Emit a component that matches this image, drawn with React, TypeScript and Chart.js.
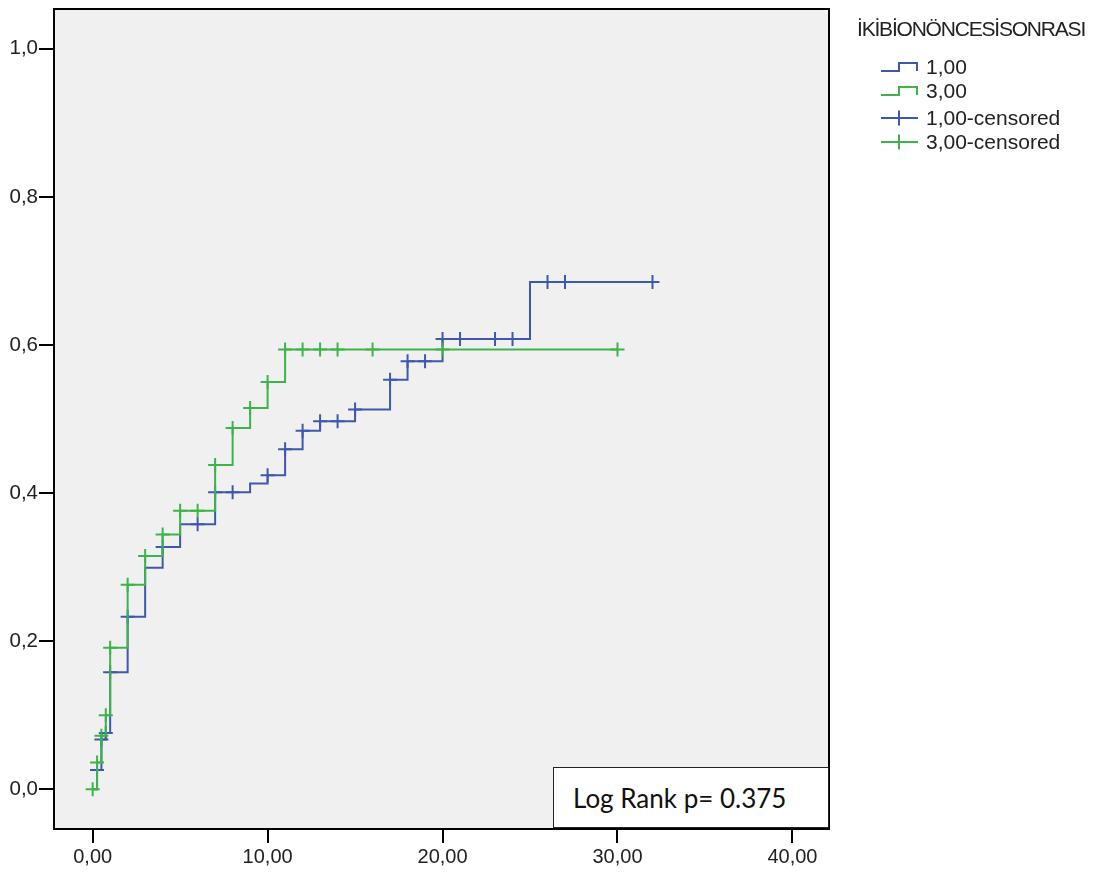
import React, { useEffect, useRef } from 'react';
import { Chart, registerables } from 'chart.js';

Chart.register(...registerables);

const BLUE = '#3f58ad';
const GREEN = '#3cb44a';

// Group "1,00" cumulative event curve (time, value after jump)
const group1Times = [0, 0.25, 0.5, 0.75, 1, 2, 3, 4, 5, 7, 9, 10, 11, 12, 13, 15, 17, 18, 20, 25, 32];
const group1Values = [0, 0.026, 0.067, 0.076, 0.158, 0.233, 0.299, 0.327, 0.358, 0.401, 0.413, 0.424, 0.459, 0.484, 0.497, 0.513, 0.553, 0.578, 0.608, 0.685, 0.685];
const group1CensorTimes = [0.25, 0.5, 0.75, 1, 2, 4, 6, 7, 8, 10, 11, 12, 13, 14, 15, 17, 18, 19, 20, 21, 23, 24, 26, 27, 32];
const group1CensorValues = [0.026, 0.067, 0.076, 0.158, 0.233, 0.327, 0.358, 0.401, 0.401, 0.424, 0.459, 0.484, 0.497, 0.497, 0.513, 0.553, 0.578, 0.578, 0.608, 0.608, 0.608, 0.608, 0.685, 0.685, 0.685];

// Group "3,00"
const group3Times = [0, 0.25, 0.5, 0.75, 1, 2, 3, 4, 5, 7, 8, 9, 10, 11, 30];
const group3Values = [0, 0.036, 0.072, 0.1, 0.191, 0.276, 0.315, 0.344, 0.376, 0.438, 0.488, 0.515, 0.55, 0.594, 0.594];
const group3CensorTimes = [0, 0.25, 0.5, 0.75, 1, 2, 3, 4, 5, 6, 7, 8, 9, 10, 11, 12, 13, 14, 16, 20, 30];
const group3CensorValues = [0, 0.036, 0.072, 0.1, 0.191, 0.276, 0.315, 0.344, 0.376, 0.376, 0.438, 0.488, 0.515, 0.55, 0.594, 0.594, 0.594, 0.594, 0.594, 0.594, 0.594];

const xTicks = [0, 10, 20, 30, 40];
const yTicks = [0, 0.2, 0.4, 0.6, 0.8, 1.0];

const legendTitle = 'İKİBİONÖNCESİSONRASI';
const legendLabels = ['1,00', '3,00', '1,00-censored', '3,00-censored'];
const annotationText = 'Log Rank p= 0.375';

const toPoints = (xs: number[], ys: number[]) => xs.map((x, i) => ({ x, y: ys[i] }));

const framePlugin = {
  id: 'frame',
  beforeDraw(chart: any) {
    const { ctx, chartArea } = chart;
    const { left, top, right, bottom } = chartArea;
    ctx.save();
    ctx.fillStyle = '#f0f0f0';
    ctx.fillRect(left, top, right - left, bottom - top);
    ctx.strokeStyle = '#000';
    ctx.lineWidth = 2;
    ctx.strokeRect(left, top, right - left, bottom - top);
    ctx.restore();
  },
};

const FONT = "'Liberation Sans', Arial, sans-serif";

function StepIcon({ color }: { color: string }) {
  return (
    <svg width={40} height={12} style={{ display: 'block' }}>
      <path d="M1,10 H19 V2 H37 V10" fill="none" stroke={color} strokeWidth={2} />
    </svg>
  );
}

function CrossIcon({ color }: { color: string }) {
  return (
    <svg width={40} height={16} style={{ display: 'block' }}>
      <path d="M1,8 H38 M19,0.5 V15.5" fill="none" stroke={color} strokeWidth={2} />
    </svg>
  );
}

export default function App() {
  const canvasRef = useRef<HTMLCanvasElement | null>(null);

  useEffect(() => {
    if (!canvasRef.current) return;
    const chart = new Chart(canvasRef.current, {
      type: 'scatter',
      data: {
        datasets: [
          {
            label: '3,00-censored',
            data: toPoints(group3CensorTimes, group3CensorValues),
            showLine: false,
            pointStyle: 'cross',
            pointRadius: 7,
            pointBorderWidth: 2,
            borderColor: GREEN,
            backgroundColor: GREEN,
          },
          {
            label: '3,00',
            data: toPoints(group3Times, group3Values),
            showLine: true,
            stepped: true,
            pointRadius: 0,
            borderWidth: 2,
            borderColor: GREEN,
            backgroundColor: GREEN,
          },
          {
            label: '1,00-censored',
            data: toPoints(group1CensorTimes, group1CensorValues),
            showLine: false,
            pointStyle: 'cross',
            pointRadius: 7,
            pointBorderWidth: 2,
            borderColor: BLUE,
            backgroundColor: BLUE,
          },
          {
            label: '1,00',
            data: toPoints(group1Times, group1Values),
            showLine: true,
            stepped: true,
            pointRadius: 0,
            borderWidth: 2,
            borderColor: BLUE,
            backgroundColor: BLUE,
          },
        ],
      },
      options: {
        animation: false,
        responsive: false,
        devicePixelRatio: 1,
        layout: { padding: { top: 5, right: 272, left: 0, bottom: 0 } },
        plugins: {
          legend: { display: false },
          tooltip: { enabled: false },
        },
        scales: {
          x: {
            type: 'linear',
            min: -2.21,
            max: 42.09,
            afterFit: (s: any) => { s.height = 48; s.paddingLeft = 0; s.paddingRight = 0; },
            afterBuildTicks: (s: any) => { s.ticks = xTicks.map((v) => ({ value: v })); },
            border: { display: false },
            grid: { display: true, drawOnChartArea: false, drawTicks: true, tickLength: 14, color: '#000', lineWidth: 2 },
            ticks: {
              padding: 2,
              color: '#222',
              font: { family: FONT, size: 20 },
              callback: (v: any) => Number(v).toFixed(2).replace('.', ','),
            },
          },
          y: {
            type: 'linear',
            min: -0.0538,
            max: 1.0538,
            afterFit: (s: any) => { s.width = 54; s.paddingTop = 0; s.paddingBottom = 0; },
            afterBuildTicks: (s: any) => { s.ticks = yTicks.map((v) => ({ value: v })); },
            border: { display: false },
            grid: { display: true, drawOnChartArea: false, drawTicks: true, tickLength: 15, color: '#000', lineWidth: 2 },
            ticks: {
              padding: 1,
              color: '#222',
              font: { family: FONT, size: 20.5 },
              callback: (v: any) => Number(v).toFixed(1).replace('.', ','),
            },
          },
        },
      },
      plugins: [framePlugin],
    } as any);
    return () => chart.destroy();
  }, []);

  const itemTops = [67, 91, 118, 142];

  return (
    <div style={{ position: 'absolute', left: 0, top: 0, width: 1101, height: 877, background: '#fff', fontFamily: FONT }}>
      <canvas ref={canvasRef} width={1101} height={877} style={{ position: 'absolute', left: 0, top: 0 }} />
      <div
        style={{
          position: 'absolute',
          left: 857,
          top: 29 - 12,
          height: 24,
          lineHeight: '24px',
          fontSize: 21,
          letterSpacing: '-1.2px',
          color: '#222',
          whiteSpace: 'nowrap',
        }}
      >
        {legendTitle}
      </div>
      {legendLabels.map((lab, i) => (
        <div
          key={lab}
          style={{
            position: 'absolute',
            left: 880,
            top: itemTops[i] - 12,
            height: 24,
            display: 'flex',
            alignItems: 'center',
            whiteSpace: 'nowrap',
          }}
        >
          <div style={{ width: 46, display: 'flex', alignItems: 'center' }}>
            {i < 2 ? <StepIcon color={i === 0 ? BLUE : GREEN} /> : <CrossIcon color={i === 2 ? BLUE : GREEN} />}
          </div>
          <span style={{ fontSize: 21, lineHeight: '24px', color: '#222' }}>{lab}</span>
        </div>
      ))}
      <div
        style={{
          position: 'absolute',
          left: 553,
          top: 767,
          width: 276,
          height: 61,
          boxSizing: 'border-box',
          background: '#fff',
          border: '1.5px solid #222',
          display: 'flex',
          alignItems: 'center',
          paddingLeft: 19,
          fontFamily: "Lato, 'Open Sans', sans-serif",
          fontSize: 26,
          color: '#111',
          whiteSpace: 'nowrap',
        }}
      >
        {annotationText}
      </div>
    </div>
  );
}
